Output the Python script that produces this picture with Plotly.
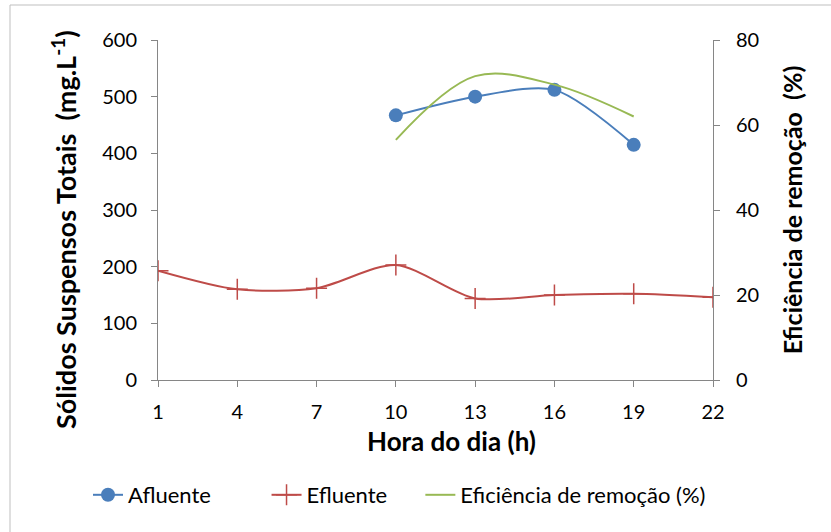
import plotly.graph_objects as go

# Hours of the day
horas_afl = [10, 13, 16, 19]
horas_efl = [1, 4, 7, 10, 13, 16, 19, 22]

# Total suspended solids (mg/L)
afluente = [467, 500, 512, 415]
efluente = [193, 160, 162, 203, 144, 150, 152, 146]

# Removal efficiency (%)
eficiencia = [56.5, 71.5, 69.5, 62]

x_ticks = [1, 4, 7, 10, 13, 16, 19, 22]

AXIS_GRAY = "#868686"
FONT = "Lato"
NBSP = "\u00a0"

# plot-area geometry in pixels, used to place legend, titles and frame in paper units
L, R, T, B = 158, 118, 40, 152
W, H = 831, 532
PW, PH = W - L - R, H - T - B


def px_x(p):
    return (p - L) / PW


def px_y(p):
    return (H - B - p) / PH


fig = go.Figure()

fig.add_trace(go.Scatter(
    x=horas_afl, y=afluente, name="Afluente" + NBSP * 9,
    mode="lines+markers", line=dict(color="#4a7ebb", width=2, shape="spline", smoothing=0.8),
    marker=dict(symbol="circle", size=14, color="#4a7ebb"),
))
fig.add_trace(go.Scatter(
    x=horas_efl, y=efluente, name="Efluente" + NBSP * 5,
    mode="lines+markers", line=dict(color="#be4b48", width=2, shape="spline", smoothing=0.8),
    marker=dict(symbol="cross-thin", size=15, line=dict(color="#be4b48", width=1.5)),
))
fig.add_trace(go.Scatter(
    x=horas_afl, y=eficiencia, name="Eficiência de remoção (%)",
    mode="lines", line=dict(color="#98b954", width=2, shape="spline", smoothing=1.0),
    yaxis="y2",
))

tick_font = dict(family=FONT, size=20, color="#000000")

fig.update_layout(
    width=W, height=H,
    margin=dict(l=L, r=R, t=T, b=B, autoexpand=False),
    paper_bgcolor="white", plot_bgcolor="white",
    font=dict(family=FONT, size=20, color="#000000"),
    showlegend=True,
    legend=dict(orientation="h", x=px_x(88), xanchor="left", y=px_y(495), yanchor="middle",
                font=dict(family=FONT, size=22), tracegroupgap=0, bgcolor="rgba(0,0,0,0)"),
    xaxis=dict(
        range=[1, 22], tickvals=x_ticks, ticktext=[str(v) for v in x_ticks],
        showgrid=False, zeroline=False, showline=True, linecolor=AXIS_GRAY, linewidth=1,
        ticks="outside", ticklen=6, tickcolor=AXIS_GRAY, ticklabelstandoff=8, automargin=False,
        tickfont=tick_font,
    ),
    yaxis=dict(
        range=[0, 600], dtick=100, showgrid=False, zeroline=False,
        showline=True, linecolor=AXIS_GRAY, linewidth=1, automargin=False,
        ticks="outside", ticklen=6, tickcolor=AXIS_GRAY, ticklabelstandoff=10,
        tickfont=tick_font,
    ),
    yaxis2=dict(
        range=[0, 80], dtick=20, overlaying="y", side="right", showgrid=False, zeroline=False,
        showline=True, linecolor=AXIS_GRAY, linewidth=1, automargin=False,
        ticks="outside", ticklen=6, tickcolor=AXIS_GRAY, ticklabelstandoff=12,
        title=dict(text="<b>Eficiência de remoção  (%)</b>",
                   font=dict(family=FONT, size=25), standoff=26),
        tickfont=tick_font,
    ),
    annotations=[
        dict(text="<b>Sólidos Suspensos Totais  (mg.L<sup>-1</sup>)</b>",
             xref="paper", yref="paper", x=px_x(64), y=px_y(230),
             xanchor="center", yanchor="middle", textangle=-90, showarrow=False,
             font=dict(family=FONT, size=27, color="#000000")),
        dict(text="<b>Hora do dia (h)</b>",
             xref="paper", yref="paper", x=px_x(451), y=px_y(441),
             xanchor="center", yanchor="middle", showarrow=False,
             font=dict(family=FONT, size=26, color="#000000")),
    ],
    shapes=[dict(
        type="rect", xref="paper", yref="paper",
        x0=px_x(10), x1=px_x(840), y0=px_y(540), y1=px_y(5),
        line=dict(color="#bfbfbf", width=1), layer="below",
    )],
)

fig.write_html("out.html")
